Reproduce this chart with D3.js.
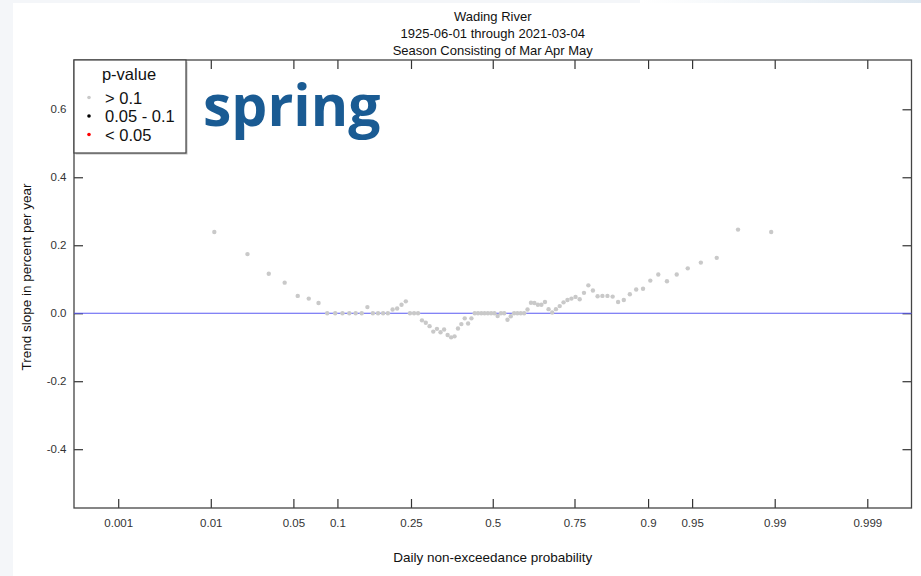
<!DOCTYPE html>
<html>
<head>
<meta charset="utf-8">
<script src="https://cdn.jsdelivr.net/npm/d3@7"></script>
<style>
  body { margin: 0; background: #f4f6f9; }
  svg { display: block; }
  text { font-family: "Liberation Sans", Arial, sans-serif; }
</style>
</head>
<body>
<svg id="chart" width="921" height="576"></svg>
<script>
// probabilities (x) and trend slopes (y)
let probs = [0.0108, 0.0215, 0.0323, 0.0430, 0.0538, 0.0645, 0.0753, 0.0860, 0.0968, 0.1075,
  0.1183, 0.1290, 0.1398, 0.1505, 0.1613, 0.1720, 0.1828, 0.1935, 0.2043, 0.2151,
  0.2258, 0.2366, 0.2473, 0.2581, 0.2688, 0.2796, 0.2903, 0.3011, 0.3118, 0.3226,
  0.3333, 0.3441, 0.3548, 0.3656, 0.3763, 0.3871, 0.3978, 0.4086, 0.4194, 0.4301,
  0.4409, 0.4516, 0.4624, 0.4731, 0.4839, 0.4946, 0.5054, 0.5161, 0.5269, 0.5376,
  0.5484, 0.5591, 0.5699, 0.5806, 0.5914, 0.6022, 0.6129, 0.6237, 0.6344, 0.6452,
  0.6559, 0.6667, 0.6774, 0.6882, 0.6989, 0.7097, 0.7204, 0.7312, 0.7419, 0.7527,
  0.7634, 0.7742, 0.7849, 0.7957, 0.8065, 0.8172, 0.8280, 0.8387, 0.8495, 0.8602,
  0.8710, 0.8817, 0.8925, 0.9032, 0.9140, 0.9247, 0.9355, 0.9462, 0.9570, 0.9677,
  0.9785, 0.9892];

let slopes = [0.239, 0.174, 0.116, 0.090, 0.051, 0.043, 0.030, 0, 0, 0,
  0, 0, 0, 0.018, 0, 0, 0, 0, 0.011, 0.014,
  0.025, 0.035, 0, 0, 0, -0.021, -0.028, -0.038, -0.054, -0.046,
  -0.056, -0.048, -0.064, -0.071, -0.068, -0.045, -0.032, -0.015, -0.030, -0.015,
  0, 0, 0, 0, 0, 0, 0, -0.008, 0, 0,
  -0.019, -0.009, 0, 0, 0, 0, 0.011, 0.031, 0.030, 0.025,
  0.025, 0.033, 0.012, 0.002, 0.012, 0.021, 0.032, 0.039, 0.043, 0.048,
  0.041, 0.060, 0.082, 0.067, 0.050, 0.051, 0.051, 0.049, 0.033, 0.039,
  0.056, 0.070, 0.072, 0.096, 0.114, 0.094, 0.114, 0.132, 0.149, 0.163,
  0.246, 0.239];

// all points have p-value > 0.1
let pgroup = slopes.map(() => "gt");

let xTicks = [0.001, 0.01, 0.05, 0.1, 0.25, 0.5, 0.75, 0.9, 0.95, 0.99, 0.999];
let yTicks = [-0.4, -0.2, 0.0, 0.2, 0.4, 0.6];
let yTickLabels = ["-0.4", "-0.2", "0.0", "0.2", "0.4", "0.6"];

let legendLabels = ["> 0.1", "0.05 - 0.1", "< 0.05"];
let legendColors = ["#c9c9c9", "#000000", "#ff0000"];
let titleLines = ["Wading River", "1925-06-01 through 2021-03-04", "Season Consisting of Mar Apr May"];

// inverse normal cdf (Acklam), used for the probability axis
function qnorm(p) {
  let a = [-39.69683028665376, 220.9460984245205, -275.9285104469687, 138.3577518672690, -30.66479806614716, 2.506628277459239];
  let b = [-54.47609879822406, 161.5858368580409, -155.6989798598866, 66.80131188771972, -13.28068155288572];
  let c = [-0.007784894002430293, -0.3223964580411365, -2.400758277161838, -2.549732539343734, 4.374664141464968, 2.938163982698783];
  let d = [0.007784695709041462, 0.3224671290700398, 2.445134137142996, 3.754408661907416];
  let plow = 0.02425, q, r;
  if (p < plow) {
    q = Math.sqrt(-2 * Math.log(p));
    return (((((c[0]*q+c[1])*q+c[2])*q+c[3])*q+c[4])*q+c[5]) / ((((d[0]*q+d[1])*q+d[2])*q+d[3])*q+1);
  }
  if (p > 1 - plow) {
    q = Math.sqrt(-2 * Math.log(1 - p));
    return -(((((c[0]*q+c[1])*q+c[2])*q+c[3])*q+c[4])*q+c[5]) / ((((d[0]*q+d[1])*q+d[2])*q+d[3])*q+1);
  }
  q = p - 0.5; r = q * q;
  return (((((a[0]*r+a[1])*r+a[2])*r+a[3])*r+a[4])*r+a[5])*q / (((((b[0]*r+b[1])*r+b[2])*r+b[3])*r+b[4])*r+1);
}

let svg = d3.select("#chart");

// page background like the screenshot edges
let defs = svg.append("defs");
let grad = defs.append("linearGradient").attr("id", "topfade");
grad.append("stop").attr("offset", "0%").attr("stop-color", "#ffffff");
grad.append("stop").attr("offset", "100%").attr("stop-color", "#dde7f0");
svg.append("rect").attr("x", 0).attr("y", 0).attr("width", 921).attr("height", 576).attr("fill", "#f4f6f9");
svg.append("rect").attr("x", 640).attr("y", 0).attr("width", 281).attr("height", 4).attr("fill", "url(#topfade)");
svg.append("rect").attr("x", 13).attr("y", 3).attr("width", 908).attr("height", 573).attr("fill", "#ffffff");

let plotL = 74, plotR = 911.5, plotT = 60, plotB = 508;

let x = d3.scaleLinear().domain([-3.455, 3.455]).range([plotL, plotR]);
let y = d3.scaleLinear().domain([-0.573, 0.745]).range([plotB, plotT]);

// axes, ticks pointing inward
let xb = svg.append("g").attr("transform", `translate(0,${plotB})`)
  .call(d3.axisBottom(x).tickValues(xTicks.map(qnorm)).tickSize(-9).tickPadding(10.5)
    .tickFormat((d, i) => String(xTicks[i])));
let xt = svg.append("g").attr("transform", `translate(0,${plotT})`)
  .call(d3.axisTop(x).tickValues(xTicks.map(qnorm)).tickSize(-9).tickFormat(""));
let yl = svg.append("g").attr("transform", `translate(${plotL},0)`)
  .call(d3.axisLeft(y).tickValues(yTicks).tickSize(-9).tickPadding(7.5)
    .tickFormat((d, i) => yTickLabels[i]));
let yr = svg.append("g").attr("transform", `translate(${plotR},0)`)
  .call(d3.axisRight(y).tickValues(yTicks).tickSize(-9).tickFormat(""));

[xb, xt, yl, yr].forEach(g => {
  g.select(".domain").remove();
  g.selectAll(".tick line").attr("stroke", "#333").attr("stroke-width", 1.2);
  g.selectAll("text").attr("fill", "#333").style("font-size", "11.5px")
    .style("font-family", "'Liberation Sans', Arial, sans-serif");
});

// plot frame
svg.append("rect").attr("x", plotL).attr("y", plotT).attr("width", plotR - plotL).attr("height", plotB - plotT)
  .attr("fill", "none").attr("stroke", "#444").attr("stroke-width", 1.3);

// zero line
svg.append("line").attr("x1", plotL).attr("x2", plotR).attr("y1", y(0)).attr("y2", y(0))
  .attr("stroke", "#5a5af2").attr("stroke-width", 1.2);

// points
svg.append("g").selectAll("circle")
  .data(slopes)
  .join("circle")
  .attr("cx", (d, i) => x(qnorm(probs[i])))
  .attr("cy", d => y(d))
  .attr("r", 2.2)
  .attr("fill", (d, i) => pgroup[i] == "gt" ? legendColors[0] : legendColors[1]);

// titles
svg.append("g").selectAll("text")
  .data(titleLines)
  .join("text")
  .attr("x", (plotL + plotR) / 2)
  .attr("y", (d, i) => 21 + i * 17)
  .attr("text-anchor", "middle")
  .attr("fill", "#111")
  .style("font-size", "13px")
  .text(d => d);

svg.append("text")
  .attr("x", (plotL + plotR) / 2).attr("y", 561.5)
  .attr("text-anchor", "middle").attr("fill", "#111")
  .style("font-size", "13.5px")
  .text("Daily non-exceedance probability");

svg.append("text")
  .attr("transform", "translate(31,277) rotate(-90)")
  .attr("text-anchor", "middle").attr("fill", "#111")
  .style("font-size", "13.5px")
  .text("Trend slope in percent per year");

// legend
let lg = svg.append("g");
lg.append("rect").attr("x", plotL + 1.5).attr("y", plotT + 1.5).attr("width", 112).attr("height", 93)
  .attr("fill", "#bbb");
lg.append("rect").attr("x", plotL).attr("y", plotT).attr("width", 112).attr("height", 93)
  .attr("fill", "#fff").attr("stroke", "#444").attr("stroke-width", 1.2);
lg.append("text").attr("x", 129).attr("y", 79.5).attr("text-anchor", "middle")
  .attr("fill", "#111").style("font-size", "16.5px").text("p-value");
lg.selectAll("circle").data(legendLabels).join("circle")
  .attr("cx", 89).attr("cy", (d, i) => 97.5 + i * 18.5).attr("r", 1.8)
  .attr("fill", (d, i) => legendColors[i]);
lg.selectAll(".lab").data(legendLabels).join("text").attr("class", "lab")
  .attr("x", 105).attr("y", (d, i) => 104 + i * 18.3)
  .attr("fill", "#111").style("font-size", "16.5px").text(d => d);

// season label
svg.append("text")
  .attr("x", 203).attr("y", 126)
  .attr("fill", "#1a5b93")
  .style("font-family", "'Open Sans', sans-serif")
  .style("font-weight", "700")
  .style("font-size", "57px")
  .text("spring");
</script>
</body>
</html>
